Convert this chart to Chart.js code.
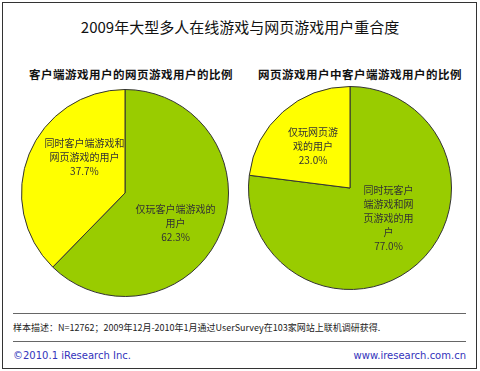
<!DOCTYPE html>
<html><head><meta charset="utf-8">
<script src="https://cdn.jsdelivr.net/npm/chart.js@4/dist/chart.umd.min.js"></script>
<style>
html,body{margin:0;padding:0;background:#fff;}
body{width:480px;height:371px;position:relative;overflow:hidden;font-family:"Noto Sans CJK SC","DejaVu Sans",sans-serif;color:#111;}
#frame{position:absolute;left:2px;top:2px;width:473px;height:365px;border:1px solid #333;}
.t{position:absolute;white-space:nowrap;}
#title{left:0;width:480px;top:16px;text-align:center;font-size:15px;}
.sub{top:66px;font-size:11.5px;font-weight:bold;text-align:center;width:240px;letter-spacing:0.5px;}
.hr{position:absolute;left:13px;width:453px;height:0;border-top:1.5px solid #666;}
#note{left:13px;top:321px;font-size:9px;color:#222;}
.foot{top:350px;font-size:10px;color:#3333bb;font-family:"DejaVu Sans",sans-serif;}
canvas{position:absolute;}
</style></head>
<body>
<div id="frame"></div>
<div id="title" class="t">2009年大型多人在线游戏与网页游戏用户重合度</div>
<div class="t sub" style="left:11px">客户端游戏用户的网页游戏用户的比例</div>
<div class="t sub" style="left:240px">网页游戏用户中客户端游戏用户的比例</div>
<div class="hr" style="top:313px"></div>
<div class="hr" style="top:341px"></div>
<div id="note" class="t">样本描述：N=12762；2009年12月-2010年1月通过UserSurvey在103家网站上联机调研获得.</div>
<div class="t foot" style="left:13px">©2010.1 iResearch Inc.</div>
<div class="t foot" style="right:14px">www.iresearch.com.cn</div>
<div style="position:absolute;left:20px;top:88px;width:210px;height:210px"><canvas id="c1"></canvas></div>
<div style="position:absolute;left:247px;top:85px;width:206px;height:206px"><canvas id="c2"></canvas></div>
<script>
const leftLabels = [["仅玩客户端游戏的","用户"],["同时客户端游戏和","网页游戏的用户"]];
const leftValues = [62.3, 37.7];
const rightLabels = [["同时玩客户","端游戏和网","页游戏的用","户"],["仅玩网页游","戏的用户"]];
const rightValues = [77.0, 23.0];
const sliceColors = ["#99cc00", "#ffff00"];

const labelPlugin = {
  id: 'sliceLabels',
  afterDatasetsDraw(chart, args, opts) {
    const ctx = chart.ctx;
    const meta = chart.getDatasetMeta(0);
    const labels = chart.data.labels;
    const vals = chart.data.datasets[0].data;
    ctx.save();
    ctx.font = '10px "Noto Sans CJK SC", sans-serif';
    ctx.fillStyle = '#333';
    ctx.textAlign = 'center';
    ctx.textBaseline = 'middle';
    meta.data.forEach((arc, i) => {
      const p = arc.getProps(['x','y','startAngle','endAngle','outerRadius'], true);
      const mid = (p.startAngle + p.endAngle) / 2;
      const f = opts.factors[i];
      const cx = p.x + Math.cos(mid) * p.outerRadius * f + opts.shifts[i][0];
      const cy = p.y + Math.sin(mid) * p.outerRadius * f + opts.shifts[i][1];
      const lines = labels[i].concat([vals[i].toFixed(1) + '%']);
      const lh = 14;
      const y0 = cy - (lines.length - 1) * lh / 2;
      lines.forEach((l, k) => ctx.fillText(l, cx, y0 + k * lh));
    });
    ctx.restore();
  }
};

function makePie(id, labels, values, factors, shifts) {
  new Chart(document.getElementById(id), {
    type: 'pie',
    data: { labels: labels, datasets: [{ data: values, backgroundColor: sliceColors, borderColor: '#333', borderWidth: 1 }] },
    options: {
      responsive: true, maintainAspectRatio: false, animation: false,
      layout: { padding: 1 },
      plugins: { legend: { display: false }, tooltip: { enabled: false }, sliceLabels: { factors: factors, shifts: shifts } }
    },
    plugins: [labelPlugin]
  });
}
makePie('c1', leftLabels, leftValues, [0.58, 0.58], [[-5, 8], [15, -13]]);
makePie('c2', rightLabels, rightValues, [0.5, 0.55], [[5, -8], [0, 0]]);
</script>
</body></html>
